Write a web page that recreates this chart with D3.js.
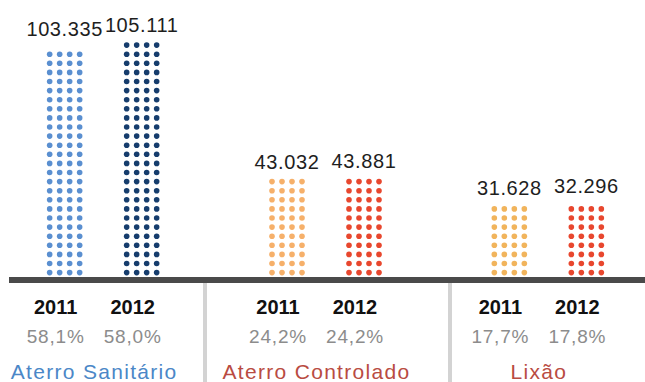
<!DOCTYPE html>
<html>
<head>
<meta charset="utf-8">
<script src="https://cdn.jsdelivr.net/npm/d3@7"></script>
<style>
  html, body { margin: 0; padding: 0; background: #fff; }
  svg { display: block; }
  text { font-family: "Liberation Sans", Arial, Helvetica, sans-serif; }
</style>
</head>
<body>
<svg id="chart" width="645" height="382"></svg>
<script>
// Destinação final dos RSU (t/dia), 2011 x 2012
const groups = ["Aterro Sanitário", "Aterro Controlado", "Lixão"];
const years = ["2011", "2012"];
const values2011 = [103335, 43032, 31628];
const values2012 = [105111, 43881, 32296];
const share2011 = [58.1, 24.2, 17.7];
const share2012 = [58.0, 24.2, 17.8];
const colors2011 = ["#5a8fd0", "#f6b06a", "#f1b45c"];
const colors2012 = ["#163d6d", "#e8472e", "#e8472e"];
const groupColors = ["#4b87c7", "#b94b42", "#b94b42"];

const W = 645, H = 382;
const base = 277;            // top of the baseline band
const svg = d3.select("#chart");

const ptBR = d3.formatLocale({ decimal: ",", thousands: ".", grouping: [3], currency: ["R$", ""] });
const fmtValue = ptBR.format(",d");
const fmtShare = v => ptBR.format(".1f")(v) + "%";

const x = d3.scaleBand().domain(groups).range([-8, 659]);
const xYear = d3.scalePoint().domain(years).range([-38.5, 38.5]);
const y = d3.scaleLinear().domain([0, 120000]).range([base, base - 120 * 2.22]);

const bars = [];
groups.forEach((g, i) => {
  bars.push({ group: g, year: "2011", value: values2011[i], share: share2011[i], color: colors2011[i] });
  bars.push({ group: g, year: "2012", value: values2012[i], share: share2012[i], color: colors2012[i] });
});
const cx = d => x(d.group) + x.bandwidth() / 2 + xYear(d.year);

// dot grid: 4 columns, rows stacked up from the baseline until the value height
const cols = 4, colStep = 10, rowStep = 9.1, r = 2.8, firstRow = base - 4.4;
const dots = [];
bars.forEach(b => {
  const top = y(b.value);
  for (let j = 0; ; j++) {
    const ry = firstRow - j * rowStep;
    if (ry - r < top - 3) break;
    for (let c = 0; c < cols; c++) {
      dots.push({ x: cx(b) + (c - (cols - 1) / 2) * colStep, y: ry, color: b.color });
    }
  }
});

svg.append("g").attr("class", "dots")
  .selectAll("circle").data(dots).join("circle")
  .attr("cx", d => d.x).attr("cy", d => d.y).attr("r", r)
  .attr("fill", d => d.color);

// value labels above each column
svg.append("g").attr("class", "values")
  .selectAll("text").data(bars).join("text")
  .attr("x", cx).attr("y", d => y(d.value) - 12)
  .attr("text-anchor", "middle")
  .attr("font-size", 20).attr("letter-spacing", 0.6)
  .attr("fill", "#1e1e1e")
  .text(d => fmtValue(d.value));

// baseline band
svg.append("rect")
  .attr("x", 9).attr("y", base).attr("width", W - 9).attr("height", 6)
  .attr("fill", "#4a4a4a");

// dividers between groups
const dividers = [205, 450];
svg.append("g").selectAll("rect").data(dividers).join("rect")
  .attr("x", d => d - 2).attr("y", base + 6).attr("width", 4).attr("height", H - base - 6)
  .attr("fill", "#d3d3d3");

// year and share labels under each column
const shift = -9;
svg.append("g").attr("class", "years")
  .selectAll("text").data(bars).join("text")
  .attr("x", d => cx(d) + shift).attr("y", 314)
  .attr("text-anchor", "middle")
  .attr("font-size", 20).attr("font-weight", "bold")
  .attr("fill", "#111")
  .text(d => d.year);

svg.append("g").attr("class", "shares")
  .selectAll("text").data(bars).join("text")
  .attr("x", d => cx(d) + shift).attr("y", 343)
  .attr("text-anchor", "middle")
  .attr("font-size", 19).attr("letter-spacing", 0.8)
  .attr("fill", "#8c8c8c")
  .text(d => fmtShare(d.share));

// group names
svg.append("g").attr("class", "groups")
  .selectAll("text").data(groups).join("text")
  .attr("x", g => x(g) + x.bandwidth() / 2 + shift).attr("y", 379)
  .attr("text-anchor", "middle")
  .attr("font-size", 21).attr("letter-spacing", 1.3)
  .attr("fill", (g, i) => groupColors[i])
  .text(g => g);
</script>
</body>
</html>
